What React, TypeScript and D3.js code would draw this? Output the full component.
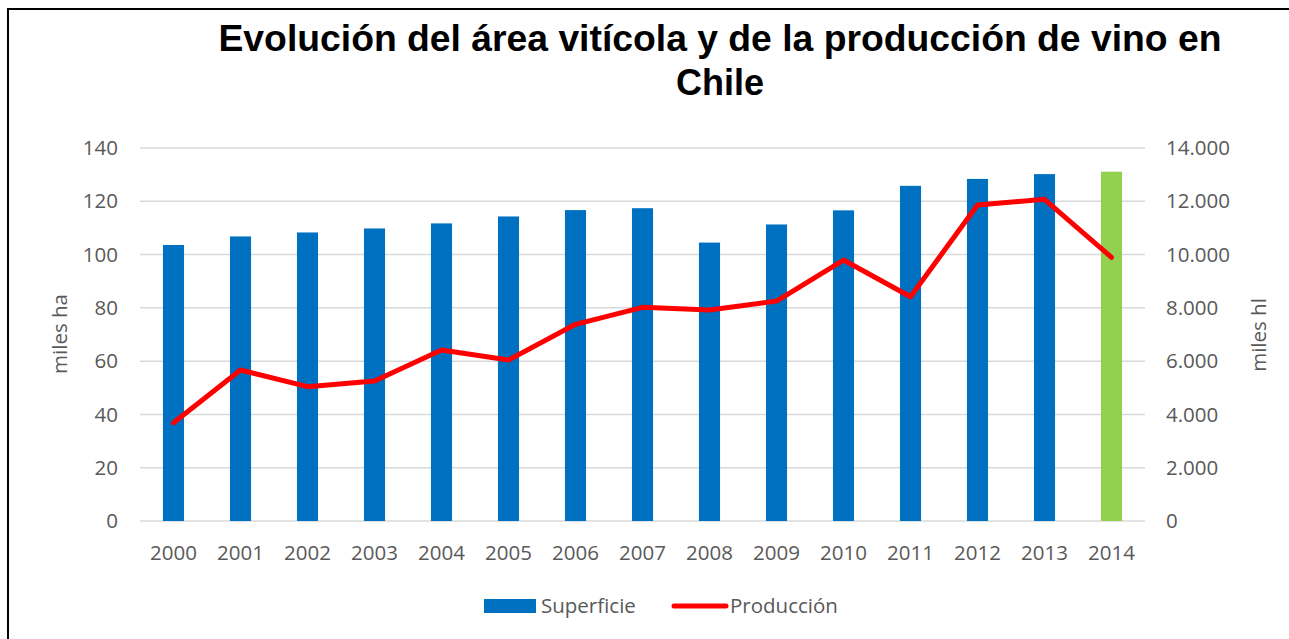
import React from "react";
import * as d3 from "d3";

const years = ["2000","2001","2002","2003","2004","2005","2006","2007","2008","2009","2010","2011","2012","2013","2014"];
const superficie = [103.6,106.8,108.3,109.8,111.7,114.3,116.7,117.4,104.5,111.3,116.6,125.8,128.4,130.2,131.1];
const produccion = [3690,5667,5041,5254,6418,6042,7382,8020,7919,8257,9795,8418,11860,12074,9897];
const leftTicks = [0,20,40,60,80,100,120,140];
const rightTicks = [0,2000,4000,6000,8000,10000,12000,14000];
const titleLines = ["Evolución del área vitícola y de la producción de vino en", "Chile"];

const W = 1289, H = 639;
const plot = { left: 140, right: 1145, top: 148, bottom: 521 };
const tickFont = "'Open Sans', sans-serif";
const gray = "#595959";

export default function App() {
  const x = d3.scaleBand<string>().domain(years).range([plot.left, plot.right]).paddingInner(0.685).paddingOuter(0.3425);
  const yL = d3.scaleLinear().domain([0, 140]).range([plot.bottom, plot.top]);
  const yR = d3.scaleLinear().domain([0, 14000]).range([plot.bottom, plot.top]);
  const fmt = (v: number) => d3.format(",")(v).replace(/,/g, ".");
  const line = d3.line<number>()
    .x((_, i) => (x(years[i]) as number) + x.bandwidth() / 2)
    .y((d) => yR(d));

  return (
    <svg width={W} height={H} style={{ position: "absolute", left: 0, top: 0, background: "#fff" }}>
      <rect x={0} y={0} width={W} height={H} fill="#fff" />
      <rect x={8} y={9} width={W + 10} height={H + 10} fill="none" stroke="#000" strokeWidth={2} />
      {titleLines.map((t, i) => (
        <text key={i} x={720} y={51 + i * 44} textAnchor="middle" fontFamily="'Liberation Sans', Arial, sans-serif" fontWeight="bold" fontSize={36} fill="#000"
          textLength={i === 0 ? 1003 : undefined} lengthAdjust="spacingAndGlyphs">{t}</text>
      ))}
      {leftTicks.map((t) => (
        <g key={"g" + t}>
          <line x1={plot.left} x2={plot.right} y1={yL(t)} y2={yL(t)} stroke="#d9d9d9" strokeWidth={1.5} />
          <text x={118} y={yL(t)} dy="0.35em" textAnchor="end" fontFamily={tickFont} fontSize={20.5} fill={gray}>{t}</text>
        </g>
      ))}
      {rightTicks.map((t) => (
        <text key={"r" + t} x={1166} y={yR(t)} dy="0.35em" textAnchor="start" fontFamily={tickFont} fontSize={20.5} fill={gray}>{fmt(t)}</text>
      ))}
      {superficie.map((v, i) => (
        <rect key={"b" + i} x={x(years[i])} y={yL(v)} width={x.bandwidth()} height={yL(0) - yL(v)} fill={i === years.length - 1 ? "#92d050" : "#0070c0"} />
      ))}
      <path d={line(produccion) || ""} fill="none" stroke="#ff0000" strokeWidth={5} strokeLinejoin="round" strokeLinecap="round" />
      {years.map((y) => (
        <text key={"x" + y} x={(x(y) as number) + x.bandwidth() / 2} y={560} textAnchor="middle" fontFamily={tickFont} fontSize={20.5} fill={gray}>{y}</text>
      ))}
      <text transform={`translate(67,334) rotate(-90)`} textAnchor="middle" fontFamily={tickFont} fontSize={20.5} fill={gray}>miles ha</text>
      <text transform={`translate(1266,335) rotate(-90)`} textAnchor="middle" fontFamily={tickFont} fontSize={20.5} fill={gray}>miles hl</text>
      <rect x={484} y={599} width={52} height={14} fill="#0070c0" />
      <text x={541} y={613} fontFamily={tickFont} fontSize={20.5} fill={gray}>Superficie</text>
      <line x1={674} x2={726} y1={606} y2={606} stroke="#ff0000" strokeWidth={5} strokeLinecap="round" />
      <text x={730} y={613} fontFamily={tickFont} fontSize={20.5} fill={gray}>Producción</text>
    </svg>
  );
}
